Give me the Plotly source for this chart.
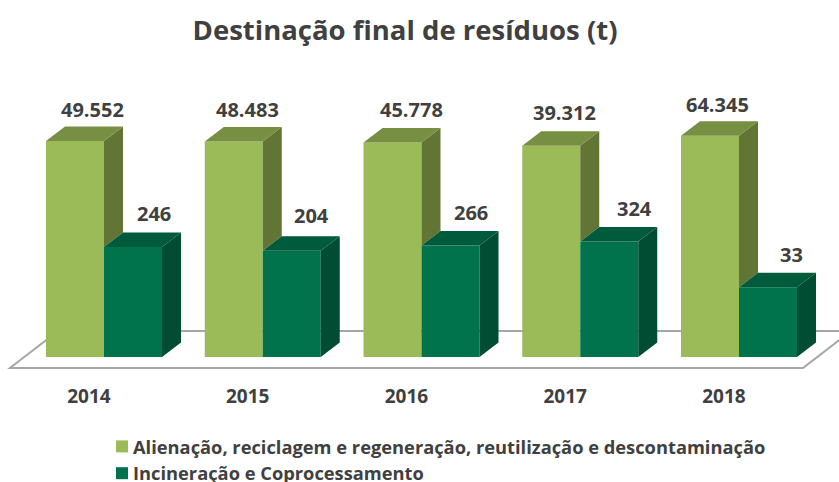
import math
import plotly.graph_objects as go

# ---- data ----
years = ["2014", "2015", "2016", "2017", "2018"]
series_a_name = "Alienação, reciclagem e regeneração, reutilização e descontaminação"
series_b_name = "Incineração e Coprocessamento"
series_a = [49552, 48483, 45778, 39312, 64345]
series_b = [246, 204, 266, 324, 33]

# ---- label nudges (pixels) ----
a_shift_x = [17, 14, 19, 13, 7]
a_shift_y = [32, 32, 33, 33, 31]
b_shift_x = [21, 20, 20, 25, 23]
b_shift_y = [34, 35, 33, 33, 33]

# ---- style ----
W, H = 839, 482
BASE_PX = 357
PX_UNIT = 158.75
PX_DECADE = 46.0
CX0 = 104.0
BAR_W = 58 / PX_UNIT
DX = 19 / PX_UNIT
DY = 14.5 / PX_DECADE
TEXT = "#404040"
FONT = "Open Sans"
C_A, C_A_TOP, C_A_SIDE = "#9BBB59", "#768F42", "#637535"
C_B, C_B_TOP, C_B_SIDE = "#00734D", "#005A3C", "#004D33"


def lift(v, k=1):
    return 10 ** (math.log10(v) + k * DY)


def face(polys):
    xs, ys = [], []
    for p in polys:
        xs += [q[0] for q in p] + [p[0][0], None]
        ys += [q[1] for q in p] + [p[0][1], None]
    return xs, ys


xpos = list(range(len(years)))
a_top, a_side, b_top, b_side = [], [], [], []
for i, (a, b) in enumerate(zip(series_a, series_b)):
    l, m, r = i - BAR_W, i, i + BAR_W
    a_top.append([(l, a), (m, a), (m + DX, lift(a)), (l + DX, lift(a))])
    a_side.append([(m, b), (m + DX, lift(b)), (m + DX, lift(a)), (m, a)])
    b_top.append([(m, b), (r, b), (r + DX, lift(b)), (m + DX, lift(b))])
    b_side.append([(r, 1), (r + DX, lift(1)), (r + DX, lift(b)), (r, b)])

fig = go.Figure()
fig.add_bar(x=xpos, y=series_a, name=series_a_name, marker=dict(color=C_A, line_width=0),
            legendgroup="a", hoverinfo="skip")
fig.add_bar(x=xpos, y=series_b, name=series_b_name, marker=dict(color=C_B, line_width=0),
            legendgroup="b", hoverinfo="skip")
for polys, col in [(a_side, C_A_SIDE), (a_top, C_A_TOP), (b_side, C_B_SIDE), (b_top, C_B_TOP)]:
    xs, ys = face(polys)
    fig.add_scatter(x=xs, y=ys, mode="lines", fill="toself", fillcolor=col,
                    line=dict(width=0, color=col), showlegend=False, hoverinfo="skip")


def fmt(v):
    return f"{v:,}".replace(",", ".")


anns = []
for i in xpos:
    for v, off, sx, sy in [
        (series_a[i], -BAR_W / 2, a_shift_x[i], a_shift_y[i]),
        (series_b[i], BAR_W / 2, b_shift_x[i], b_shift_y[i]),
    ]:
        anns.append(dict(x=i + off, y=math.log10(v), xref="x", yref="y", text=fmt(v), showarrow=False,
                         xshift=sx, yshift=sy, font=dict(family=FONT, size=20, color=TEXT, weight=700)))


def px(x):
    return x / W


def py(y):
    return (BASE_PX - y) / BASE_PX


floor = (f"M{px(10)},{py(368)} L{px(803)},{py(368)} L{px(851)},{py(331)} L{px(58)},{py(331)} Z")

fig.update_layout(
    width=W, height=H,
    paper_bgcolor="white", plot_bgcolor="rgba(0,0,0,0)",
    margin=dict(l=0, r=0, t=0, b=H - BASE_PX, autoexpand=False),
    barmode="group", bargap=1 - 2 * BAR_W, bargroupgap=0,
    title=dict(text="Destinação final de resíduos (t)", x=405 / W, xanchor="center", xref="paper",
               y=1 - 30 / H, yanchor="middle", yref="container",
               font=dict(family=FONT, size=27.5, color=TEXT, weight=700)),
    xaxis=dict(range=[-CX0 / PX_UNIT, (W - CX0) / PX_UNIT], tickmode="array",
               tickvals=[i - 0.095 for i in xpos], ticktext=years, ticks="outside", ticklen=22,
               tickcolor="rgba(0,0,0,0)", showgrid=False, zeroline=False, showline=False,
               tickfont=dict(family=FONT, size=19, color=TEXT, weight=700)),
    yaxis=dict(type="log", range=[0, BASE_PX / PX_DECADE], visible=False),
    legend=dict(x=px(102), xanchor="left", y=py(428), yanchor="top", orientation="v",
                font=dict(family=FONT, size=18.3, color=TEXT, weight=700), tracegroupgap=0,
                bgcolor="rgba(0,0,0,0)", traceorder="normal"),
    shapes=[dict(type="path", path=floor, xref="paper", yref="paper", layer="below",
                 fillcolor="white", line=dict(color="#A6A6A6", width=2))],
    annotations=anns,
)
post = """
document.body.style.margin='0';document.body.style.overflow='hidden';
function tightenLegend(){
  document.querySelectorAll('.legendtext').forEach(function(t){
    if(t.dataset.moved){return;}
    t.dataset.moved='1';
    t.setAttribute('x', parseFloat(t.getAttribute('x'))-9);
  });
}
tightenLegend();setTimeout(tightenLegend,50);
"""
fig.write_html("out.html", config=dict(displayModeBar=False), post_script=post)
